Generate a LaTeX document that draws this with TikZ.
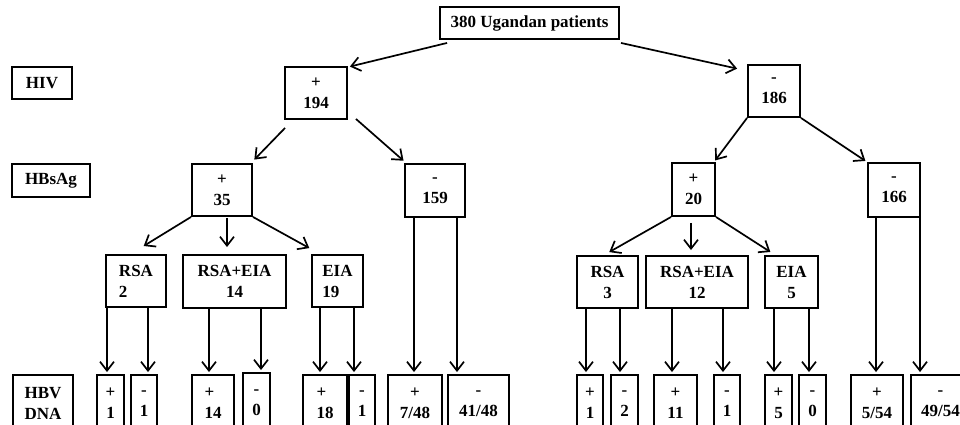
\documentclass[tikz,border=0pt]{standalone}
\usepackage{fontspec}
\setmainfont{Liberation Serif}
\usetikzlibrary{arrows.meta}

\tikzset{
  box/.style={draw,line width=1.9pt,inner sep=0pt,align=center,
    font=\fontsize{17}{21}\selectfont\bfseries},
  arr/.style={-{Straight Barb[length=9pt,width=14pt]},line width=1.7pt,shorten >=2pt},
}
% a box given by its left, right, top and bottom edges
\newcommand{\cell}[7][]{%
  \node[box,#1,minimum width={#4-#3},minimum height={#6-#5}] (#2)
    at ({(#3+#4)/2},{(#5+#6)/2}) {#7} ;}
% a straight drop from one box to another at a given x
\newcommand{\drop}[3]{%
  \draw[arr] (#3,0 |- #1.south) -- (#3,0 |- #2.north) ;}

\begin{document}
\begin{tikzpicture}[x=1pt,y=-1pt]
        \useasboundingbox (0,0) rectangle (960,425) ;
        \clip (0,0) rectangle (960,425) ;
        % row labels
        \cell{hiv}{12}{72}{67}{99}{HIV}
        \cell{hbsag}{12}{90}{164}{197}{HBsAg}
        \cell{hbv}{13}{73}{375}{432}{HBV\\DNA}
        % root and HIV status
        \cell{root}{440}{619}{7}{39}{380 Ugandan patients}
        \cell{pos194}{285}{347}{67}{119}{+\\194}
        \cell{neg186}{748}{800}{65}{117}{-\\186}
        % HBsAg status
        \cell{pos35}{192}{252}{164}{216}{+\\35}
        \cell{neg159}{405}{465}{164}{217}{-\\159}
        \cell{pos20}{672}{715}{163}{216}{+\\20}
        \cell{neg166}{868}{920}{163}{217}{-\\166}
        % assays
        \cell[align=left]{rsaA}{106}{166}{255}{307}{RSA\\2}
        \cell{bothA}{183}{286}{255}{308}{RSA+EIA\\14}
        \cell[align=left]{eiaA}{312}{363}{255}{307}{EIA\\19}
        \cell{rsaB}{577}{638}{256}{308}{RSA\\3}
        \cell{bothB}{646}{748}{256}{308}{RSA+EIA\\12}
        \cell{eiaB}{765}{818}{256}{308}{EIA\\5}
        % HBV DNA results
        \cell{a1}{97}{124}{375}{432}{+\\1}
        \cell{a2}{131}{157}{375}{432}{-\\1}
        \cell[align=left]{a3}{192}{234}{375}{432}{+\\14}
        \cell{a4}{243}{270}{373}{432}{-\\0}
        \cell[align=left]{a5}{303}{347}{375}{432}{+\\18}
        \cell{a6}{349}{375}{375}{432}{-\\1}
        \cell{a7}{388}{442}{375}{432}{+\\7/48}
        \cell{a8}{448}{509}{375}{432}{-\\41/48}
        \cell{b1}{577}{603}{375}{432}{+\\1}
        \cell{b2}{611}{638}{375}{432}{-\\2}
        \cell{b3}{654}{697}{375}{432}{+\\11}
        \cell{b4}{714}{740}{375}{432}{-\\1}
        \cell{b5}{765}{792}{375}{432}{+\\5}
        \cell{b6}{799}{826}{375}{432}{-\\0}
        \cell{b7}{851}{903}{375}{432}{+\\5/54}
        \cell{b8}{911}{970}{375}{432}{-\\49/54}
        % branches
        \draw[arr] ([shift={(8,3)}]root.south west) -- ([shift={(0,1)}]pos194.north east) ;
        \draw[arr] ([shift={(1,3)}]root.south east) -- ([shift={(-8,5)}]neg186.north west) ;
        \draw[arr] ([shift={(1,8)}]pos194.south west) -- ([shift={(0,-2)}]pos35.north east) ;
        \draw[arr] ([shift={(8,-1)}]pos194.south east) -- ([shift={(1,-1)}]neg159.north west) ;
        \draw[arr] (neg186.south west) -- ([shift={(-2,0)}]pos20.north east) ;
        \draw[arr] (neg186.south east) -- (neg166.north west) ;
        \draw[arr] (pos35.south west) -- ([shift={(6,-7)}]rsaA.north) ;
        \draw[arr] ([shift={(5,1)}]pos35.south) -- ([shift={(-7.5,-5)}]bothA.north) ;
        \draw[arr] (pos35.south east) -- ([shift={(0,-5)}]eiaA.north west) ;
        \draw[arr] (pos20.south west) -- ([shift={(0,-2)}]rsaB.north) ;
        \draw[arr] ([shift={(-2.5,6)}]pos20.south) -- ([shift={(-6,-3)}]bothB.north) ;
        \draw[arr] (pos20.south east) -- ([shift={(8,-2)}]eiaB.north west) ;
        % drops to the HBV DNA row
        \drop{rsaA}{a1}{107} \drop{rsaA}{a2}{148}
        \drop{bothA}{a3}{209} \drop{bothA}{a4}{261}
        \drop{eiaA}{a5}{320} \drop{eiaA}{a6}{354}
        \drop{neg159}{a7}{414} \drop{neg159}{a8}{457}
        \drop{rsaB}{b1}{586} \drop{rsaB}{b2}{620}
        \drop{bothB}{b3}{672} \drop{bothB}{b4}{723}
        \drop{eiaB}{b5}{774} \drop{eiaB}{b6}{809}
        \drop{neg166}{b7}{876} \drop{neg166}{b8}{920}
\end{tikzpicture}
\end{document}
